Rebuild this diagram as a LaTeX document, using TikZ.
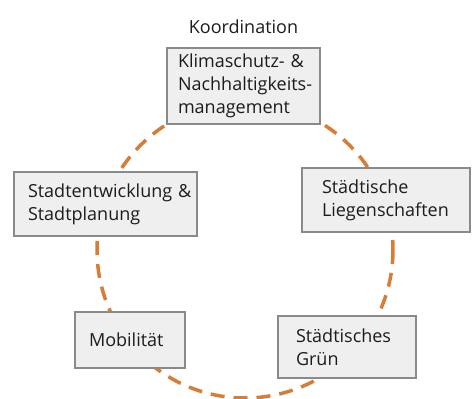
\documentclass[tikz,border=0pt]{standalone}
\usepackage{fontspec}
\setmainfont{Open Sans}
\usepackage{xcolor}
\usepackage{tikz}
\usetikzlibrary{positioning}

\definecolor{ringorange}{RGB}{214,125,55}
\definecolor{boxline}{RGB}{138,138,138}
\definecolor{boxfill}{RGB}{239,239,239}
\definecolor{ink}{RGB}{28,28,28}

\begin{document}
\begin{tikzpicture}[
  x=1pt, y=-1pt,
  area/.style={draw=boxline, line width=2pt, fill=boxfill, align=left,
               text=ink, font=\fontsize{18}{23}\selectfont, inner ysep=2pt},
  tag/.style={text=ink, font=\fontsize{18}{23}\selectfont, inner sep=0pt},
  ring/.style={draw=ringorange, line width=3.5pt, dash pattern=on 14pt off 9pt}
]
  \useasboundingbox (0,0) rectangle (472,399);
  % Cycle
  \coordinate (ctr) at (245,250);
  \draw[ring] (ctr) circle[radius=148];
  % Boxes
  \node[area, inner xsep=11pt, text width=131pt, minimum height=76pt] (klima) at (243.5,86)
    {\mbox{Klimaschutz-~\&}\\\mbox{Nachhaltigkeits-}\\management};
  \node[tag, above=13pt of klima] (koord) {Koordination};
  \node[area, inner xsep=14pt, text width=155pt, minimum height=64pt] (stadt) at (105.5,204)
    {\mbox{Stadtentwicklung~\&}\\Stadtplanung};
  \node[area, inner xsep=20pt, text width=128pt, minimum height=64pt] (liegen) at (386,200)
    {Städtische\\Liegenschaften};
  \node[area, inner xsep=14pt, text width=82pt, minimum height=56pt] (mobil) at (130,340)
    {Mobilität};
  \node[area, inner xsep=18pt, text width=102pt, minimum height=62pt] (gruen) at (347,347)
    {Städtisches\\Grün};
\end{tikzpicture}
\end{document}
